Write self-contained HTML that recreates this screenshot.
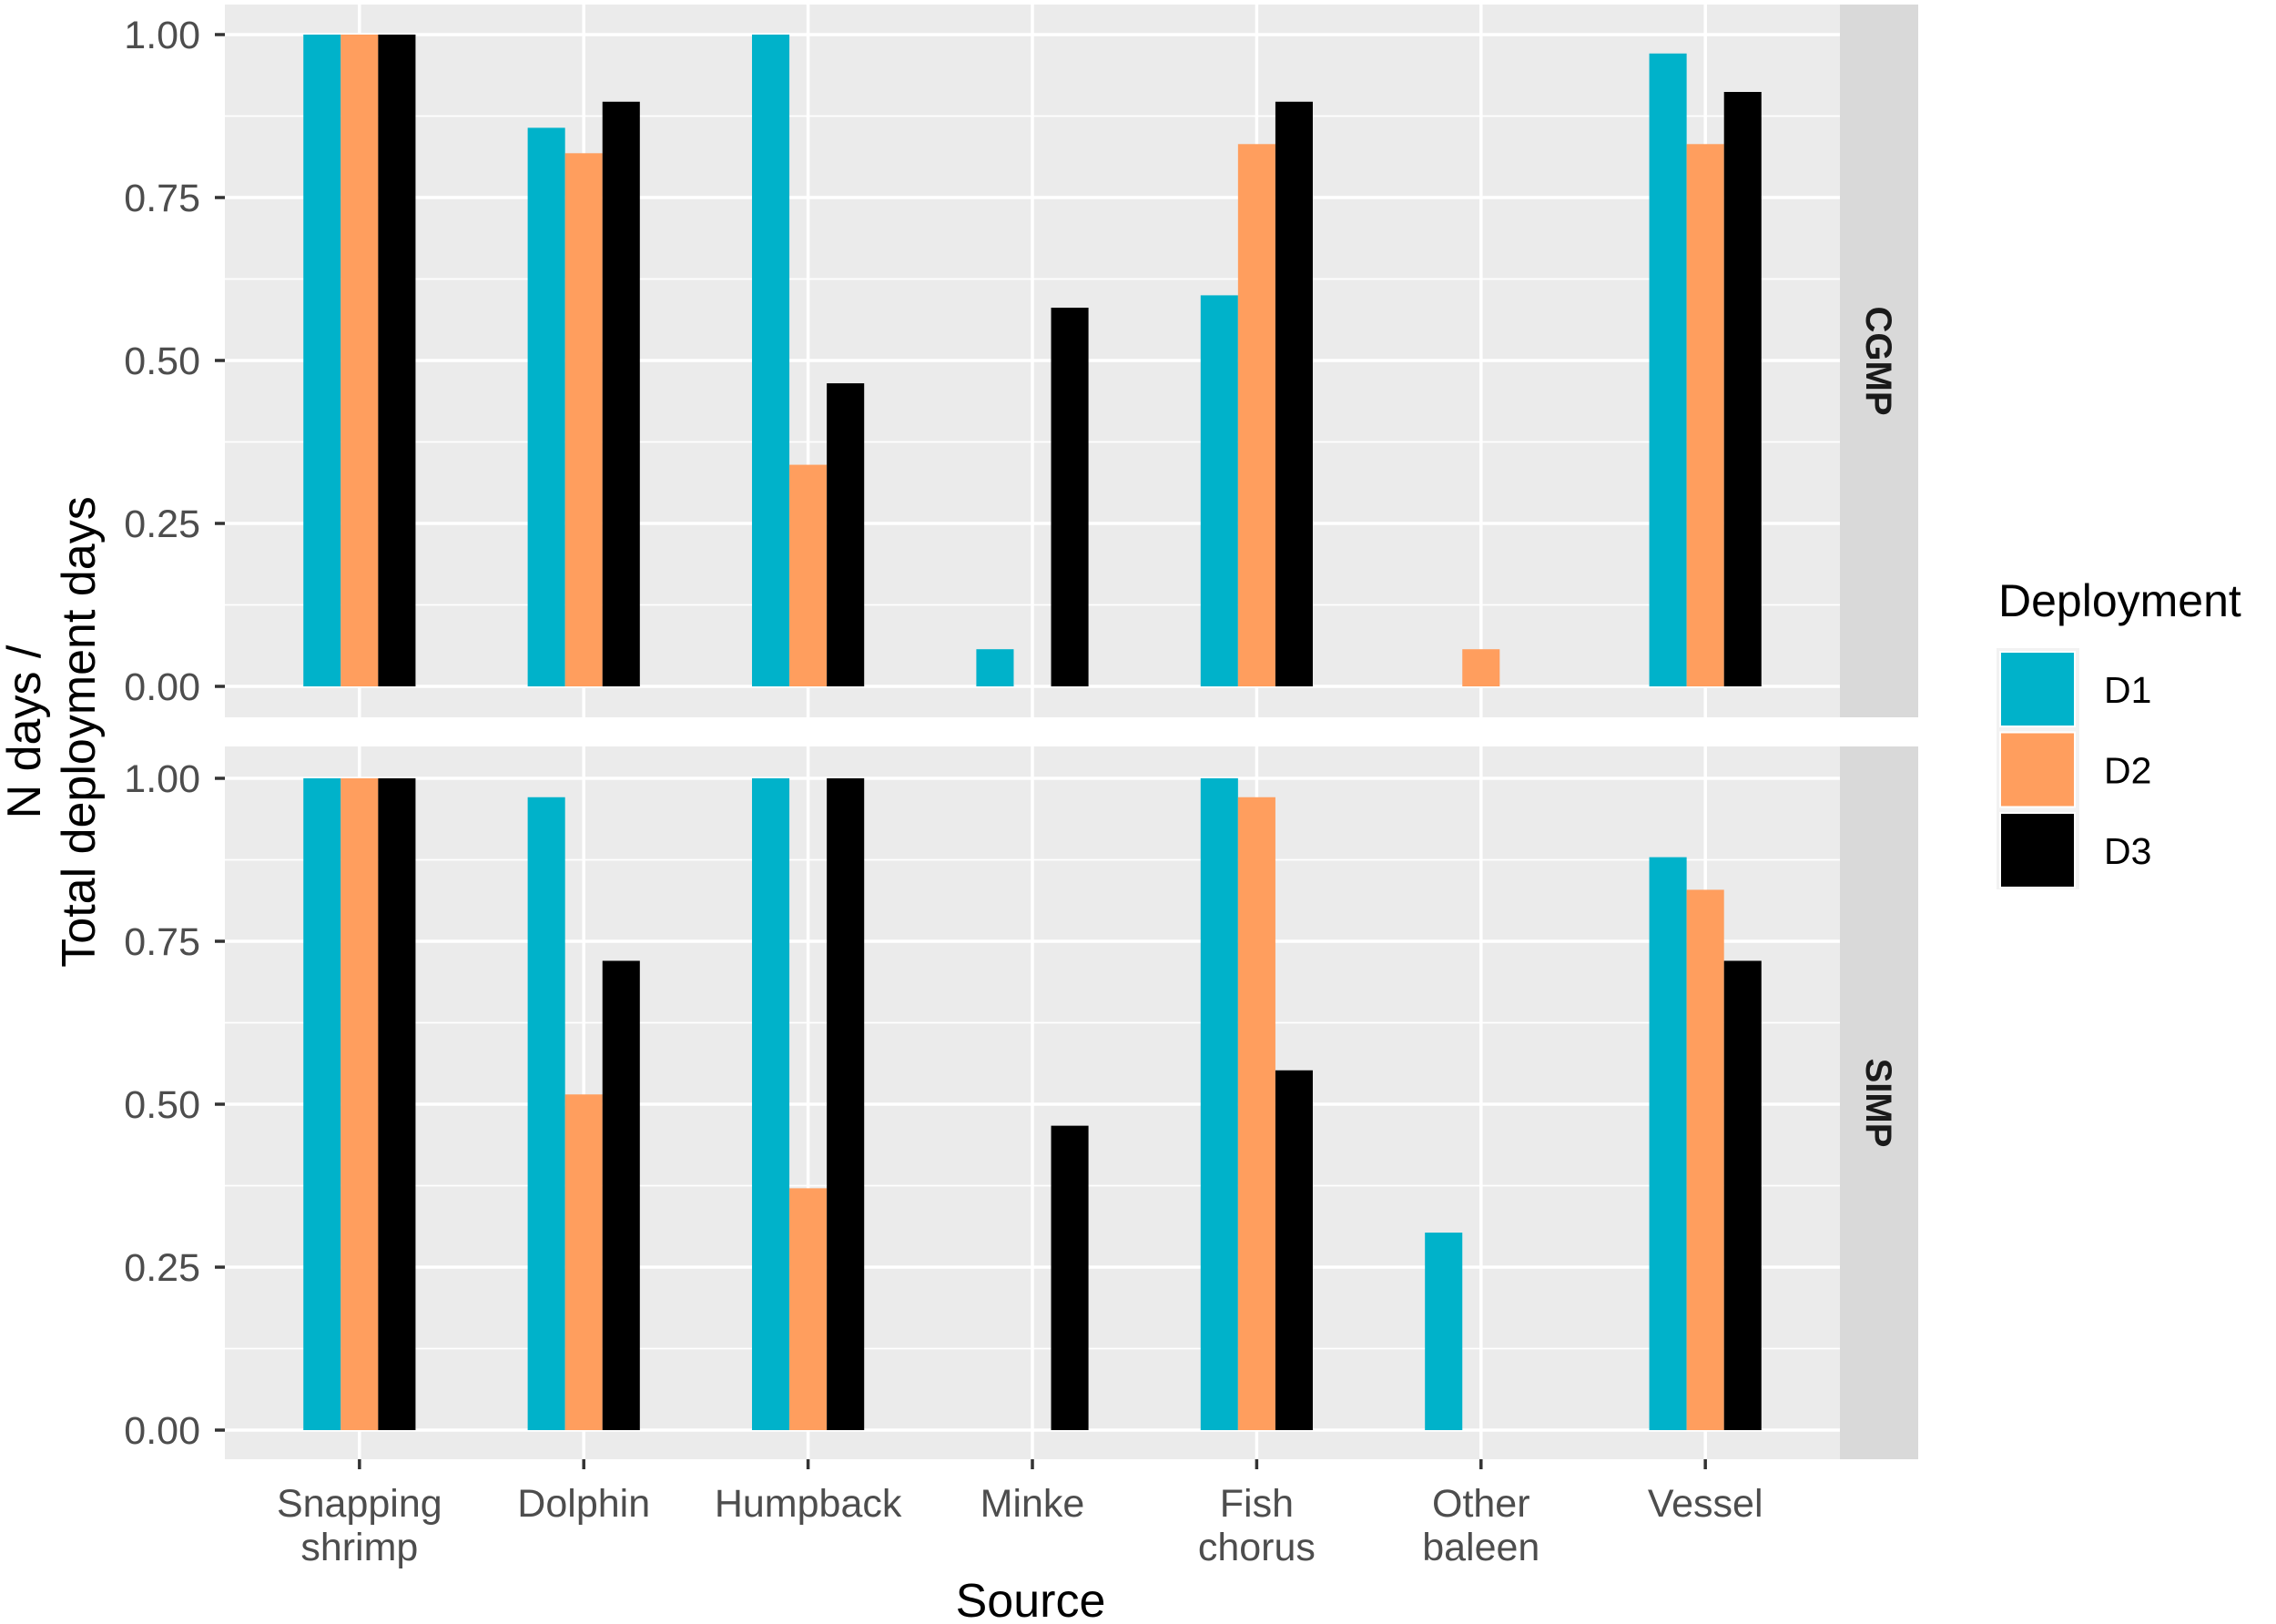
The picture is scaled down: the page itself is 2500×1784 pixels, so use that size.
<!DOCTYPE html>
<html><head><meta charset="utf-8"><style>
html,body{margin:0;padding:0;background:#fff;}
svg{display:block;font-family:"Liberation Sans",Arial,sans-serif;}
</style></head><body>
<svg id="chart" width="2500" height="1784" viewBox="0 0 2500 1784" xmlns="http://www.w3.org/2000/svg"></svg>
<script>
const categories = ["Snapping\nshrimp","Dolphin","Humpback","Minke","Fish\nchorus","Other\nbaleen","Vessel"];
const series = ["D1","D2","D3"];
const colors = ["#00B2CA","#FF9E5E","#000000"];
const cgmpD1 = [1.00,0.857,1.00,0.057,0.60,0,0.971];
const cgmpD2 = [1.00,0.818,0.34,0,0.832,0.057,0.832];
const cgmpD3 = [1.00,0.897,0.465,0.581,0.897,0,0.912];
const simpD1 = [1.00,0.971,1.00,0,1.00,0.303,0.879];
const simpD2 = [1.00,0.515,0.371,0,0.971,0,0.829];
const simpD3 = [1.00,0.72,1.00,0.467,0.552,0,0.72];
const yTicks = [0,0.25,0.5,0.75,1.0];
const yTickLabels = ["0.00","0.25","0.50","0.75","1.00"];

const svg = document.getElementById('chart');
const NS = "http://www.w3.org/2000/svg";
function mk(tag, attrs, parent){const e=document.createElementNS(NS,tag);for(const k in attrs)e.setAttribute(k,attrs[k]);(parent||svg).appendChild(e);return e;}

const PL=247, PR=2021, SR=2107;
const unit=(PR-PL)/(categories.length-1+1.2);
function xC(i){return PL+(i+0.6)*unit;}
const panels=[
 {name:"CGMP",top:5,bottom:788,y0:754,y1:38,data:[cgmpD1,cgmpD2,cgmpD3]},
 {name:"SIMP",top:820,bottom:1603,y0:1571,y1:855,data:[simpD1,simpD2,simpD3]}
];
panels.forEach((p,pi)=>{
  const g=mk('g',{});
  
  
  const y=v=>p.y0+(p.y1-p.y0)*v;
  mk('rect',{x:PL,y:p.top,width:PR-PL,height:p.bottom-p.top,fill:'#EBEBEB'},g);
  for(let k=0;k<yTicks.length-1;k++){const v=(yTicks[k]+yTicks[k+1])/2;
    mk('line',{x1:PL,x2:PR,y1:y(v),y2:y(v),stroke:'#fff','stroke-width':1.8},g);}
  yTicks.forEach((v,k)=>{
    mk('line',{x1:PL,x2:PR,y1:y(v),y2:y(v),stroke:'#fff','stroke-width':3.5},g);
    mk('line',{x1:236,x2:PL,y1:y(v),y2:y(v),stroke:'#333','stroke-width':3.5},g);
    const t=mk('text',{x:220,y:y(v)+15,'text-anchor':'end','font-size':43,fill:'#4D4D4D'},g);
    t.textContent=yTickLabels[k];
    
    
  });
  categories.forEach((c,i)=>{mk('line',{x1:xC(i),x2:xC(i),y1:p.top,y2:p.bottom,stroke:'#fff','stroke-width':3.5},g);});
  const bw=unit*0.5/3;
  p.data.forEach((arr,s)=>{
    arr.forEach((v,i)=>{
      if(v<=0)return;
      const x=xC(i)-unit*0.25+s*bw;
      const r=mk('rect',{x:x,y:y(v),width:bw,height:y(0)-y(v),fill:colors[s]},g);
      
      
    });
  });
  const st=mk('rect',{x:PR,y:p.top,width:SR-PR,height:p.bottom-p.top,fill:'#D9D9D9'},g);
  
  
  const cy=(p.top+p.bottom)/2, cx=(PR+SR)/2;
  const tt=mk('text',{x:cx,y:cy,'text-anchor':'middle','font-size':40,'font-weight':'bold',fill:'#1A1A1A',transform:`rotate(90 ${cx} ${cy}) translate(0 14)`},g);
  tt.textContent=p.name;
  
  
});
categories.forEach((c,i)=>{
  mk('line',{x1:xC(i),x2:xC(i),y1:1603,y2:1614,stroke:'#333','stroke-width':3.5});
  const lines=c.split('\n');
  lines.forEach((l,j)=>{
    const t=mk('text',{x:xC(i),y:1666+j*48,'text-anchor':'middle','font-size':43,fill:'#4D4D4D'});
    t.textContent=l;
    
    
  });
});
const xt=mk('text',{x:1132,y:1776,'text-anchor':'middle','font-size':52,fill:'#000'});
xt.textContent='Source';


const yt=mk('text',{x:0,y:0,'text-anchor':'middle','font-size':52,fill:'#000',transform:'translate(44 804) rotate(-90)'});


const ts1=mk('tspan',{x:0,dy:0},yt); ts1.textContent='N days /';
const ts2=mk('tspan',{x:0,dy:60},yt); ts2.textContent='Total deployment days';
const lg=mk('g',{});


const ltitle=mk('text',{x:2195,y:677,'font-size':50,fill:'#000'},lg);
ltitle.textContent='Deployment';


mk('rect',{x:2193,y:712,width:91,height:265,fill:'#F2F2F2'},lg);
series.forEach((s,k)=>{
  const r=mk('rect',{x:2197,y:716+k*88.5,width:82,height:82,fill:colors[k],stroke:'#fff','stroke-width':2},lg);
  
  
  const t=mk('text',{x:2311,y:772+k*88.5,'font-size':41,fill:'#000'},lg);
  t.textContent=s;
  
  
});
</script>
</body></html>
